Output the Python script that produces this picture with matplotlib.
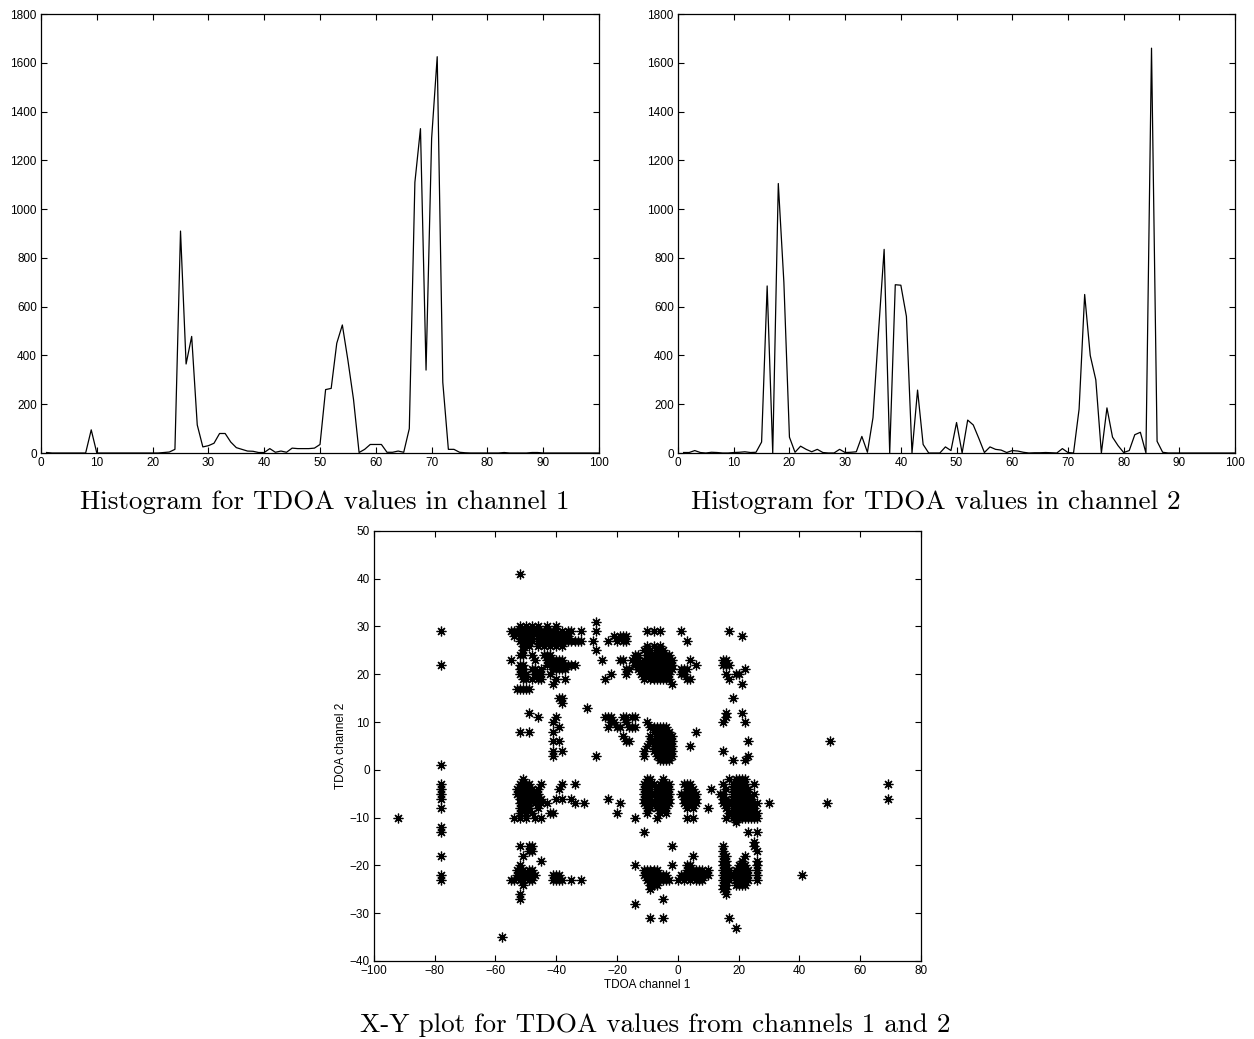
import matplotlib
matplotlib.use('Agg')
import matplotlib.pyplot as plt

plt.rcParams['font.family'] = ['Liberation Sans', 'DejaVu Sans']

# histogram bins (TDOA value) and counts
bins = list(range(1, 101))

hist_ch1 = [2, 0, 0, 0, 0, 0, 0, 0, 95, 0,
            0, 0, 0, 0, 0, 0, 0, 0, 0, 0,
            0, 2, 4, 15, 910, 365, 478, 115, 25, 30,
            40, 80, 80, 45, 22, 15, 8, 7, 2, 2,
            18, 3, 8, 3, 20, 18, 18, 18, 20, 35,
            260, 265, 450, 525, 380, 220, 2, 15, 35, 35,
            35, 3, 3, 8, 3, 100, 1110, 1330, 340, 1290,
            1625, 290, 15, 15, 3, 1, 0, 0, 0, 0,
            0, 0, 2, 0, 0, 0, 0, 2, 2, 0,
            0, 0, 0, 0, 0, 0, 0, 0, 0, 0]

hist_ch2 = [2, 2, 10, 2, 0, 3, 2, 0, 0, 2,
            3, 5, 2, 3, 45, 685, 0, 1105, 700, 65,
            3, 28, 15, 5, 15, 2, 0, 0, 15, 2,
            3, 5, 68, 3, 145, 500, 835, 0, 690, 688,
            560, 0, 258, 35, 0, 0, 0, 25, 10, 125,
            0, 135, 115, 60, 2, 25, 15, 12, 2, 10,
            8, 3, 0, 1, 1, 2, 1, 0, 18, 2,
            0, 180, 650, 400, 300, 0, 185, 65, 30, 2,
            10, 75, 85, 0, 1660, 48, 3, 0, 0, 0,
            0, 0, 0, 0, 0, 0, 0, 0, 0, 0]

# TDOA pairs, one row per channel-2 value: (tdoa ch2, [tdoa ch1 values])
tdoa_rows = [
    (41, [-52]),
    (31, [-27]),
    (30, [-52, -50, -48, -46, -43, -40]),
    (29, [-78, -55, -54, -53, -52, -51, -50, -49, -48, -47, -46, -45, -44, -43, -42,
          -41, -40, -38, -36, -35, -32, -27, -10, -8, -6, 1, 17]),
    (28, [-54, -52, -50, -48, -46, -44, -42, -40, -39, -38, -37, -36, -21, -19, -18,
          -17, 21]),
    (27, [-52, -51, -50, -49, -48, -46, -45, -43, -42, -41, -40, -39, -38, -37, -36,
          -35, -34, -33, -32, -28, -23, -20, -18, -17, 3]),
    (26, [-51, -49, -46, -44, -42, -40, -38, -10, -8, -6]),
    (25, [-51, -27, -11, -9, -7, -5]),
    (24, [-52, -51, -48, -44, -43, -42, -14, -13, -10, -9, -8, -7, -6, -5, -4, -3]),
    (23, [-55, -47, -43, -42, -41, -40, -39, -38, -25, -19, -18, -15, -13, -11, -10,
          -9, -8, -7, -6, -5, -4, -3, -2, 4, 15, 16]),
    (22, [-78, -52, -51, -43, -41, -40, -39, -38, -37, -36, -35, -34, -14, -12, -11,
          -10, -9, -8, -7, -6, -5, -4, -3, -2, 6, 15, 16, 17]),
    (21, [-52, -51, -48, -47, -45, -41, -40, -39, -38, -37, -17, -16, -13, -11, -10,
          -9, -8, -7, -6, -5, -4, -3, -2, 1, 2, 3, 22]),
    (20, [-52, -51, -50, -47, -46, -45, -42, -22, -17, -12, -10, -9, -8, -7, -6, -5,
          -4, -3, 1, 2, 16, 19, 20]),
    (19, [-51, -50, -48, -46, -45, -40, -37, -24, -11, -9, -8, -7, -6, -5, -4, -3,
          3, 4, 17]),
    (18, [-41, -2, 21]),
    (17, [-53, -52, -51, -50, -49]),
    (15, [-39, -38, 18]),
    (14, [-38]),
    (13, [-30]),
    (12, [-49, 16, 21]),
    (11, [-46, -40, -24, -23, -22, -18, -17, -15, -14, 16]),
    (10, [-41, -22, -21, -17, -10, 15, 22]),
    (9, [-39, -23, -20, -19, -16, -15, -14, -9, -8, -7, -6, -5, -4]),
    (8, [-52, -49, -41, -8, -7, -6, -5, -4, -3, 6]),
    (7, [-18, -9, -7, -6, -5, -4, -3, -2]),
    (6, [-41, -39, -17, -16, -9, -8, -6, -5, -4, -3, -2, 23, 50]),
    (5, [-10, -8, -7, -6, -5, -4, -3, -2, 4]),
    (4, [-41, -38, -11, -8, -6, -5, -4, -3, -2, 15]),
    (3, [-41, -27, -11, -7, -6, -5, -4, -3, -2, 23]),
    (2, [-6, -5, -4, -3, 18, 22]),
    (1, [-78]),
    (-2, [-51, -10, -9, -5, 17, 19, 20, 21, 22]),
    (-3, [-78, -52, -51, -50, -49, -45, -38, -34, -11, -10, -9, -8, -6, -5, -4, -3,
          2, 3, 4, 15, 18, 19, 20, 21, 22, 25, 69]),
    (-4, [-78, -53, -52, -51, -50, -49, -48, -46, -39, -11, -10, -9, -7, -6, -5, -4,
          -3, 3, 5, 11, 16, 18, 19, 20, 21, 22, 23]),
    (-5, [-78, -53, -52, -51, -50, -49, -48, -47, -46, -11, -10, -9, -8, -6, -5, -4,
          -3, 1, 2, 4, 5, 6, 14, 15, 18, 19, 20, 21, 22, 23, 25]),
    (-6, [-78, -52, -51, -50, -49, -48, -46, -45, -40, -38, -35, -23, -11, -10, -9,
          -7, -6, -5, -4, -3, 2, 3, 5, 6, 15, 16, 18, 19, 20, 21, 22, 23, 24, 69]),
    (-7, [-52, -51, -50, -49, -47, -45, -43, -34, -31, -19, -11, -10, -9, -8, -6, -5,
          -4, -3, 2, 4, 6, 15, 17, 18, 19, 20, 21, 22, 23, 24, 26, 30, 49]),
    (-8, [-78, -52, -51, -50, -49, -46, -10, -9, -7, -6, -5, -4, 3, 5, 10, 16, 18, 19,
          20, 21, 22, 23, 24, 25]),
    (-9, [-52, -50, -48, -42, -41, -20, -10, -6, -4, 17, 18, 19, 20, 21, 22, 23, 24,
          26]),
    (-10, [-92, -54, -52, -50, -47, -45, -14, -7, 3, 5, 16, 18, 19, 20, 21, 22, 23, 24,
           25, 26]),
    (-11, [19]),
    (-12, [-78]),
    (-13, [-78, -11, 23, 26]),
    (-15, [25]),
    (-16, [-52, -49, -48, -2, 15, 25]),
    (-17, [-49, -48, 15, 26]),
    (-18, [-78, -51, 5, 15, 16, 22]),
    (-19, [-45, 15, 16, 21, 26]),
    (-20, [-52, -14, -2, 3, 4, 15, 16, 20, 21, 22, 26]),
    (-21, [-53, -52, -51, -49, -48, -11, -10, -9, -8, -7, 3, 5, 6, 7, 8, 10, 15, 16,
           17, 19, 20, 21, 22, 23, 26]),
    (-22, [-78, -53, -52, -51, -50, -48, -47, -41, -40, -39, -11, -10, -9, -8, -7, -6,
           -5, -4, 1, 2, 3, 4, 5, 6, 7, 8, 9, 10, 15, 16, 17, 18, 19, 20, 21, 22, 23,
           26, 41]),
    (-23, [-78, -55, -54, -52, -51, -49, -48, -41, -40, -39, -38, -35, -32, -10, -9,
           -8, -7, -6, -5, -4, -3, 0, 2, 4, 6, 7, 8, 15, 16, 17, 19, 20, 21, 22, 23,
           26]),
    (-24, [-51, -9, -8, -7, 15, 16, 19, 20, 21, 22]),
    (-25, [-9, 15, 16]),
    (-26, [-52, 16]),
    (-27, [-52, -5]),
    (-28, [-14]),
    (-31, [-9, -5, 17]),
    (-33, [19]),
    (-35, [-58]),
]

tdoa_ch1 = [x for y, row in tdoa_rows for x in row]
tdoa_ch2 = [y for y, row in tdoa_rows for x in row]

fig = plt.figure(figsize=(12.54, 10.39), dpi=100)

ax1 = fig.add_axes([0.0327, 0.564, 0.445, 0.4225])
ax2 = fig.add_axes([0.5407, 0.564, 0.4442, 0.4225])
ax3 = fig.add_axes([0.2982, 0.0751, 0.4362, 0.4139])

for ax, h in [(ax1, hist_ch1), (ax2, hist_ch2)]:
    ax.plot(bins, h, color='black', linewidth=0.9)
    ax.set_xlim(0, 100)
    ax.set_ylim(0, 1800)
    ax.set_xticks(range(0, 101, 10))
    ax.set_yticks(range(0, 1801, 200))

ax3.plot(tdoa_ch1, tdoa_ch2, linestyle='none', marker=(8, 2, 0), markersize=7,
         markeredgewidth=0.9, color='black')
ax3.set_xlim(-100, 80)
ax3.set_ylim(-40, 50)
ax3.set_xticks(range(-100, 81, 20))
ax3.set_yticks(range(-40, 51, 10))
ax3.set_xlabel('TDOA channel 1', fontsize=8.5, labelpad=1)
ax3.set_ylabel('TDOA channel 2', fontsize=8.5, labelpad=2)

for ax in [ax1, ax2, ax3]:
    ax.tick_params(direction='in', top=True, right=True, length=4, width=0.8,
                   labelsize=8.5, pad=3)
    for s in ax.spines.values():
        s.set_linewidth(0.9)

fig.text(0.259, 0.510, 'Histogram for TDOA values in channel 1', fontfamily='cmr10',
         fontsize=19.5, ha='center', va='baseline')
fig.text(0.746, 0.510, 'Histogram for TDOA values in channel 2', fontfamily='cmr10',
         fontsize=19.5, ha='center', va='baseline')
fig.text(0.5227, 0.0072, 'X-Y plot for TDOA values from channels 1 and 2', fontfamily='cmr10',
         fontsize=19.5, ha='center', va='baseline')

fig.savefig('out.png', dpi=100)
